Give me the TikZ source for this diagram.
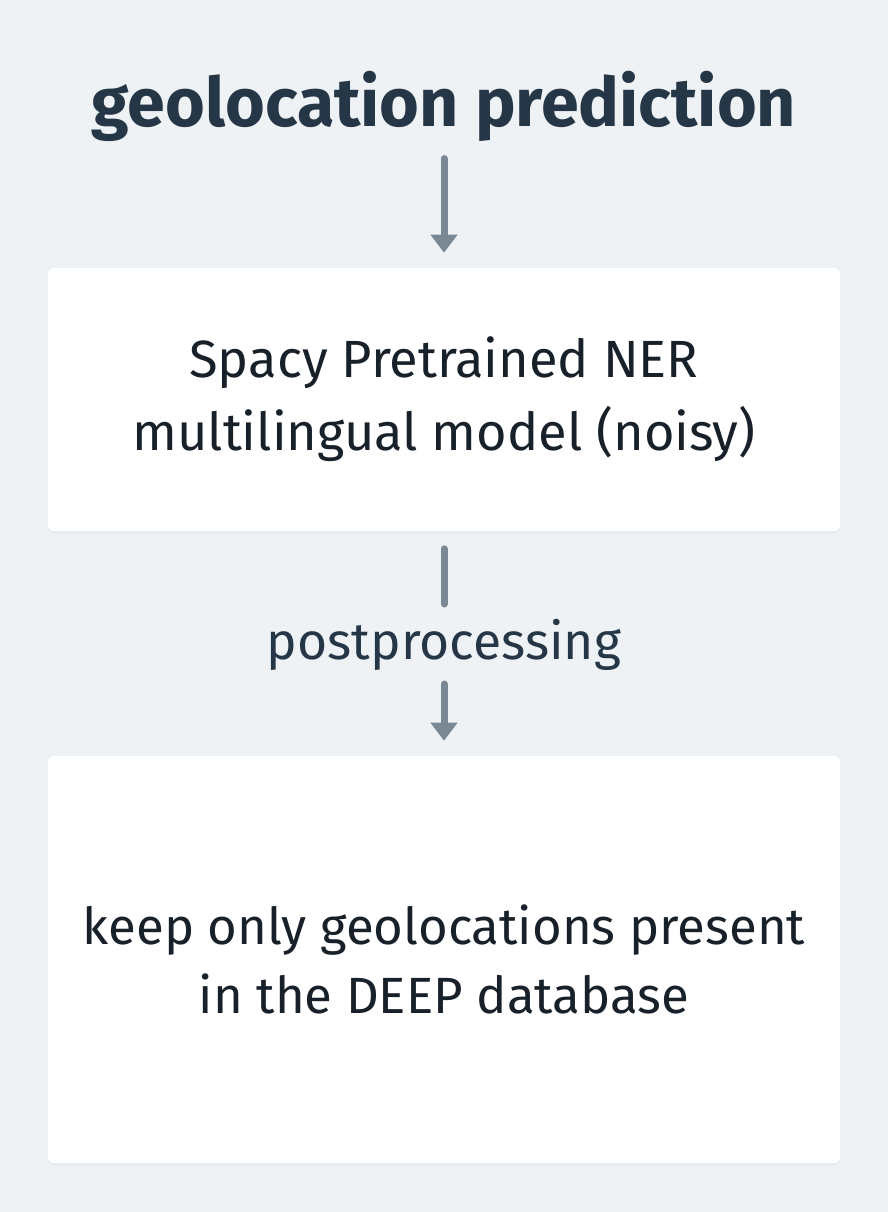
\documentclass[tikz,border=0pt]{standalone}
\usepackage{fontspec}
\setmainfont{Fira Sans}
\usetikzlibrary{arrows.meta,positioning,shadows}

\definecolor{pagebg}{HTML}{EFF2F5}
\definecolor{titleink}{HTML}{253646}
\definecolor{boxink}{HTML}{18202A}
\definecolor{flowgray}{HTML}{7A8794}

\begin{document}
\begin{tikzpicture}[x=0.02cm, y=-0.02cm,
    every node/.style={align=center, inner sep=0pt},
    stagebox/.style={rectangle, fill=white, rounded corners=0.12cm,
      minimum width=15.84cm, text=boxink,
      drop shadow={opacity=0.06, shadow xshift=0pt, shadow yshift=-1.5pt}},
    flow/.style={draw=flowgray, line width=0.14cm, line cap=round},
    flowarrow/.style={flow, -{Triangle[width=0.52cm, length=0.36cm]}}]

    \fill[pagebg] (0,0) rectangle (888,1212);
    \useasboundingbox (0,0) rectangle (888,1212);

    \node (title) at (444,106) [text=titleink, font=\bfseries\fontsize{38.8}{44}\selectfont]
        {geolocation prediction};
    \node (spacy) at (444,399.5) [stagebox, minimum height=5.26cm,
        font=\fontsize{29.8}{41.4}\selectfont]
        {Spacy Pretrained NER\\multilingual model (noisy)};
    \node (post) at (444,645) [text=titleink, font=\fontsize{29.4}{34}\selectfont]
        {postprocessing};
    \node (keep) at (444,959.5) [stagebox, minimum height=8.14cm,
        font=\fontsize{29}{39.7}\selectfont]
        {keep only geolocations present\\in the DEEP database};

    \draw[flowarrow, shorten <=0.34cm, shorten >=0.3cm] (title) -- (spacy);
    \draw[flow, shorten <=0.35cm, shorten >=0.3cm] (spacy) -- (post);
    \draw[flowarrow, shorten <=0.26cm, shorten >=0.3cm] (post) -- (keep);
\end{tikzpicture}
\end{document}
